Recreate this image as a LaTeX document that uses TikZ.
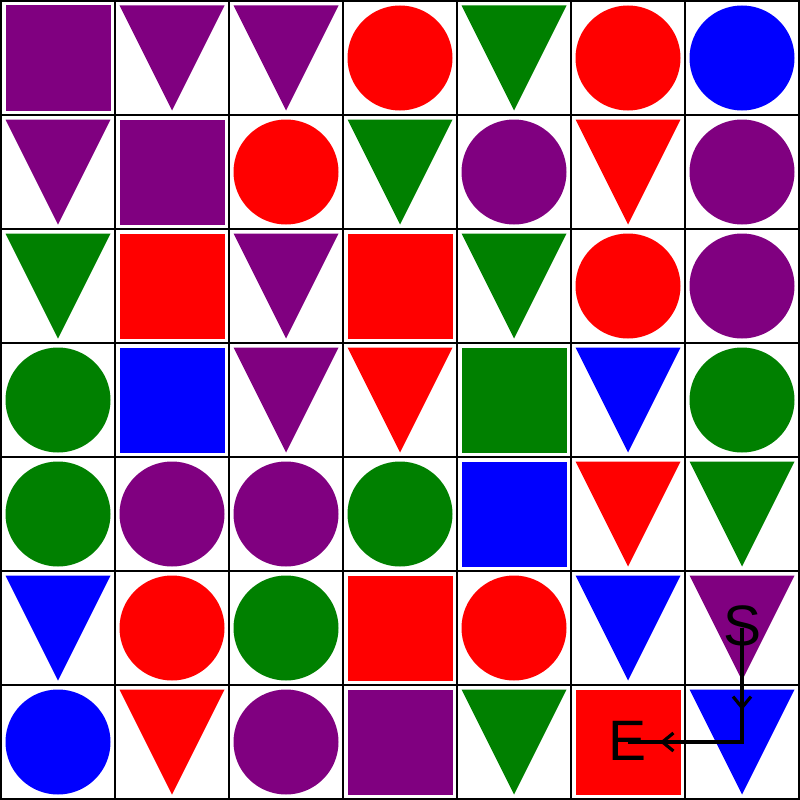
\documentclass[tikz,border=0pt]{standalone}
\usepackage{fontspec}
\setmainfont{Liberation Sans}
\usetikzlibrary{arrows.meta,decorations.markings}
\definecolor{cpurple}{HTML}{800080}
\definecolor{cred}{HTML}{FF0000}
\definecolor{cgreen}{HTML}{008000}
\definecolor{cblue}{HTML}{0000FF}
\tikzset{
  gridline/.style={line width=2pt, draw=black},
  pathline/.style={line width=3.6pt, draw=black, line join=miter},
  midarrow/.style={decoration={markings, mark=at position 0.72 with {\arrow[line width=3.2pt]{Straight Barb[length=11pt,width=18pt]}}}, decorate},
  lbl/.style={font=\fontsize{57}{57}\selectfont, inner sep=0pt, text=black}
}
\newcommand{\mysq}[3]{\fill[#3] (1+114*#2+4.5, 1+114*#1+4.5) rectangle ++(105,105);}
\newcommand{\mycirc}[3]{\fill[#3] (1+114*#2+57, 1+114*#1+57) circle (52.5);}
\newcommand{\mytri}[3]{\fill[#3] (1+114*#2+4.5, 1+114*#1+4.5) -- ++(105,0) -- (1+114*#2+57, 1+114*#1+109.5) -- cycle;}
\begin{document}
\begin{tikzpicture}[x=1pt,y=-1pt]
\useasboundingbox (0,0) rectangle (800,800);
\fill[white] (0,0) rectangle (800,800);
% row 0
\mysq{0}{0}{cpurple}\mytri{0}{1}{cpurple}\mytri{0}{2}{cpurple}\mycirc{0}{3}{cred}\mytri{0}{4}{cgreen}\mycirc{0}{5}{cred}\mycirc{0}{6}{cblue}
% row 1
\mytri{1}{0}{cpurple}\mysq{1}{1}{cpurple}\mycirc{1}{2}{cred}\mytri{1}{3}{cgreen}\mycirc{1}{4}{cpurple}\mytri{1}{5}{cred}\mycirc{1}{6}{cpurple}
% row 2
\mytri{2}{0}{cgreen}\mysq{2}{1}{cred}\mytri{2}{2}{cpurple}\mysq{2}{3}{cred}\mytri{2}{4}{cgreen}\mycirc{2}{5}{cred}\mycirc{2}{6}{cpurple}
% row 3
\mycirc{3}{0}{cgreen}\mysq{3}{1}{cblue}\mytri{3}{2}{cpurple}\mytri{3}{3}{cred}\mysq{3}{4}{cgreen}\mytri{3}{5}{cblue}\mycirc{3}{6}{cgreen}
% row 4
\mycirc{4}{0}{cgreen}\mycirc{4}{1}{cpurple}\mycirc{4}{2}{cpurple}\mycirc{4}{3}{cgreen}\mysq{4}{4}{cblue}\mytri{4}{5}{cred}\mytri{4}{6}{cgreen}
% row 5
\mytri{5}{0}{cblue}\mycirc{5}{1}{cred}\mycirc{5}{2}{cgreen}\mysq{5}{3}{cred}\mycirc{5}{4}{cred}\mytri{5}{5}{cblue}\mytri{5}{6}{cpurple}
% row 6
\mycirc{6}{0}{cblue}\mytri{6}{1}{cred}\mycirc{6}{2}{cpurple}\mysq{6}{3}{cpurple}\mytri{6}{4}{cgreen}\mysq{6}{5}{cred}\mytri{6}{6}{cblue}
% grid
\foreach \k in {0,...,7} {
  \draw[gridline] (1+114*\k,0) -- (1+114*\k,800);
  \draw[gridline] (0,1+114*\k) -- (800,1+114*\k);
}
% labels and path
\node[lbl] (S) at (742,626) {S};
\node[lbl] (E) at (628,741) {E};
\coordinate (Sc) at (742,628);
\coordinate (C) at (742,742);
\coordinate (Ec) at (628,742);
\draw[pathline] (Sc) -- (C) -- (Ec);
\path[midarrow] (Sc) -- (C);
\path[midarrow] (C) -- (Ec);
\end{tikzpicture}
\end{document}
